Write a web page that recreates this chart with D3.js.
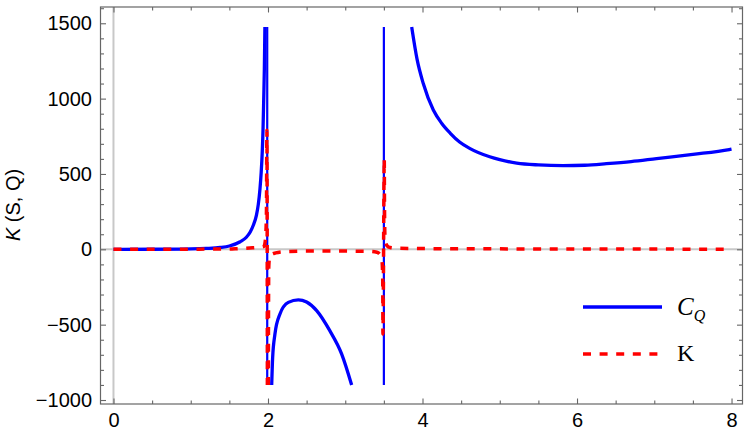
<!DOCTYPE html>
<html><head><meta charset="utf-8">
<script src="https://cdn.jsdelivr.net/npm/d3@7"></script>
<style>body{margin:0;background:#fff}</style>
</head><body><svg id="c" width="750" height="435"></svg>
<script>
// ---- data ----
const xTickValues = [0, 2, 4, 6, 8];
const yTickValues = [-1000, -500, 0, 500, 1000, 1500];
const legendLabels = ["C", "K"];

// C_Q branches [x, value]
const cqBranch1 = [[0,0],[0.5,0.5],[1.0,3],[1.2,6],[1.38,12],[1.5,22],[1.64,50],[1.72,80],[1.77,115],[1.81,160],[1.85,225],[1.875,300],[1.896,400],[1.912,510],[1.926,650],[1.936,800],[1.944,980],[1.953,1200],[1.96,1475]];
const cqBranch2 = [[2.048,-900],[2.06,-720],[2.09,-562],[2.155,-429],[2.263,-352],[2.393,-335],[2.5,-350],[2.63,-407],[2.8,-540],[2.954,-695],[3.083,-900]];
const cqBranch3 = [[3.86,1475],[3.93,1260],[4.01,1100],[4.14,924],[4.25,835],[4.36,770],[4.48,712],[4.61,670],[4.87,614],[5.0,595],[5.22,572],[5.5,560],[5.82,555],[6.1,558],[6.38,568],[6.7,582],[7.03,602],[7.5,630],[7.97,662],[8.0,665]];
const cqPoles = [[[1.99,1475],[1.99,-900]], [[3.5,1475],[3.5,-900]]];

// K branches [x, value]
const kBranch1 = [[0,0],[0.5,0],[1.0,1],[1.5,2],[1.6,4],[1.8,10],[1.9,15],[1.948,20],[1.962,45],[1.972,105],[1.98,250],[1.986,790],[1.992,-900]];
const kBranch2 = [[2.004,-900],[2.01,-120],[2.02,-55],[2.04,-35],[2.1,-24],[2.2,-16],[2.5,-12],[3.0,-12],[3.3,-13],[3.41,-19],[3.455,-40],[3.475,-70],[3.485,-200],[3.488,-562],[3.505,602],[3.508,300],[3.513,100],[3.52,58],[3.54,25],[3.58,12],[3.7,7],[4.0,5],[5,3],[6,2],[8,1]];

// ---- layout ----
const W = 750, H = 435;
const m = {top: 7, right: 7.5, bottom: 31, left: 100.5};
const svg = d3.select("#c");
const x = d3.scaleLinear().domain([-0.168, 8.142]).range([m.left, W - m.right]);
const y = d3.scaleLinear().domain([-1026.5, 1608]).range([H - m.bottom, m.top]);
const FONT = "'Liberation Sans', Arial, sans-serif";
const SERIF = "'Liberation Serif', 'Times New Roman', serif";
const frameColor = "#666";

svg.append("defs").append("clipPath").attr("id", "clip")
  .append("rect").attr("x", m.left).attr("y", m.top)
  .attr("width", W - m.left - m.right).attr("height", H - m.top - m.bottom);

// zero axes
svg.append("line").attr("x1", m.left).attr("x2", W - m.right)
  .attr("y1", y(0)).attr("y2", y(0)).attr("stroke", "#c8c8c8").attr("stroke-width", 2);
svg.append("line").attr("x1", x(0)).attr("x2", x(0))
  .attr("y1", m.top).attr("y2", H - m.bottom).attr("stroke", "#c8c8c8").attr("stroke-width", 2);

// curves
const plot = svg.append("g").attr("clip-path", "url(#clip)");
const line = d3.line().x(d => x(d[0])).y(d => y(d[1])).curve(d3.curveMonotoneX);
const straight = d3.line().x(d => x(d[0])).y(d => y(d[1]));
[cqBranch1, cqBranch2, cqBranch3].forEach(b => {
  plot.append("path").attr("d", line(b)).attr("fill", "none")
    .attr("stroke", "#0000ff").attr("stroke-width", 3.3);
});
cqPoles.forEach(p => {
  plot.append("path").attr("d", straight(p)).attr("fill", "none")
    .attr("stroke", "#0000ff").attr("stroke-width", 2.2);
});
[kBranch1, kBranch2].forEach(b => {
  plot.append("path").attr("d", line(b)).attr("fill", "none")
    .attr("stroke", "#ff0000").attr("stroke-width", 3.5)
    .attr("stroke-dasharray", "8,8.6");
});

// frame
svg.append("rect").attr("x", m.left).attr("y", m.top)
  .attr("width", W - m.left - m.right).attr("height", H - m.top - m.bottom)
  .attr("fill", "none").attr("stroke", frameColor).attr("stroke-width", 1.2);

const minorX = d3.range(0, 8.01, 0.5).filter(v => !xTickValues.includes(v));
const minorY = d3.range(-1000, 1601, 100).filter(v => !yTickValues.includes(v));

function styleAxis(g) {
  g.select(".domain").remove();
  g.selectAll("line").attr("stroke", frameColor).attr("stroke-width", 1.1);
  g.selectAll("text").attr("font-family", FONT).attr("font-size", 20).attr("fill", "#000");
}
// bottom
svg.append("g").attr("transform", `translate(0,${H - m.bottom})`)
  .call(d3.axisBottom(x).tickValues(xTickValues).tickSize(-5.5).tickPadding(9).tickFormat(d3.format("d")))
  .call(styleAxis);
svg.append("g").attr("transform", `translate(0,${H - m.bottom})`)
  .call(d3.axisBottom(x).tickValues(minorX).tickSize(-3.5).tickFormat(""))
  .call(styleAxis);
// top
svg.append("g").attr("transform", `translate(0,${m.top})`)
  .call(d3.axisTop(x).tickValues(xTickValues).tickSize(-5.5).tickFormat(""))
  .call(styleAxis);
svg.append("g").attr("transform", `translate(0,${m.top})`)
  .call(d3.axisTop(x).tickValues(minorX).tickSize(-3.5).tickFormat(""))
  .call(styleAxis);
// left
svg.append("g").attr("transform", `translate(${m.left},0)`)
  .call(d3.axisLeft(y).tickValues(yTickValues).tickSize(-5.5).tickPadding(8.5)
    .tickFormat(d => d < 0 ? "\u2212" + Math.abs(d) : String(d)))
  .call(styleAxis);
svg.append("g").attr("transform", `translate(${m.left},0)`)
  .call(d3.axisLeft(y).tickValues(minorY).tickSize(-3.5).tickFormat(""))
  .call(styleAxis);
// right
svg.append("g").attr("transform", `translate(${W - m.right},0)`)
  .call(d3.axisRight(y).tickValues(yTickValues).tickSize(-5.5).tickFormat(""))
  .call(styleAxis);
svg.append("g").attr("transform", `translate(${W - m.right},0)`)
  .call(d3.axisRight(y).tickValues(minorY).tickSize(-3.5).tickFormat(""))
  .call(styleAxis);

// y title
const yt = svg.append("text").attr("transform", "translate(13,205) rotate(-90)")
  .attr("text-anchor", "middle").attr("dominant-baseline", "central")
  .attr("font-family", FONT).attr("font-size", 20).attr("fill", "#000");
yt.append("tspan").attr("font-style", "italic").text("K");
yt.append("tspan").text(" (S, Q)");

// legend
const lg = svg.append("g");
lg.append("line").attr("x1", 583).attr("x2", 662).attr("y1", 307).attr("y2", 307)
  .attr("stroke", "#0000ff").attr("stroke-width", 3.3);
lg.append("line").attr("x1", 583).attr("x2", 662).attr("y1", 354).attr("y2", 354)
  .attr("stroke", "#ff0000").attr("stroke-width", 3.5).attr("stroke-dasharray", "8,8.6");
const t1 = lg.append("text").attr("x", 677).attr("y", 315)
  .attr("font-family", SERIF).attr("font-size", 25).attr("fill", "#000");
t1.append("tspan").attr("font-style", "italic").text(legendLabels[0]);
t1.append("tspan").attr("font-style", "italic").attr("font-size", 16).attr("dy", 6).text("Q");
lg.append("text").attr("x", 677).attr("y", 361)
  .attr("font-family", SERIF).attr("font-size", 24).attr("fill", "#000").text(legendLabels[1]);
</script>
</body></html>
